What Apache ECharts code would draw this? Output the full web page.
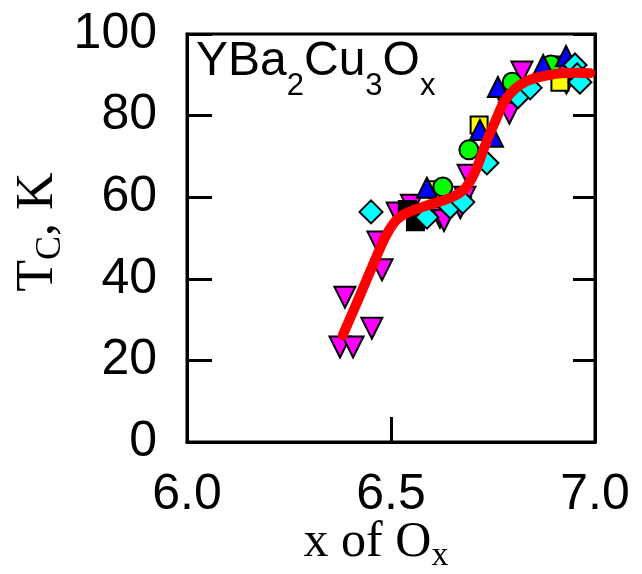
<!DOCTYPE html>
<html><head><meta charset="utf-8">
<script src="https://cdn.jsdelivr.net/npm/echarts@6/dist/echarts.min.js"></script>
<style>html,body{margin:0;padding:0;background:#fff}#c{width:642px;height:574px}</style>
</head><body><div id="c"></div>
<script>
const xTicks = [6.0, 6.5, 7.0];
const yTicks = [0, 20, 40, 60, 80, 100];
const magenta = [[6.375,23.3],[6.407,23.3],[6.387,35.5],[6.453,27.9],[6.478,42.2],[6.468,49.0],[6.515,56.1],[6.55,58.0],[6.62,55.1],[6.63,54.3],[6.67,57.4],[6.681,60.0],[6.689,65.4],[6.787,81.9],[6.79,80.6],[6.821,90.7],[6.919,91.9],[6.93,88.0]];
const cyan = [[6.451,56.4],[6.588,55.1],[6.645,57.6],[6.676,58.8],[6.735,68.4],[6.811,84.6],[6.841,86.8],[6.951,92.4],[6.956,90.0],[6.963,88.2]];
const blue = [[6.588,62.3],[6.718,76.5],[6.75,74.8],[6.762,87.0],[6.873,92.4],[6.929,94.6]];
const green = [[6.627,62.5],[6.691,71.6],[6.797,88.2],[6.892,92.4]];
const yellow = [[6.613,61.8],[6.716,77.7],[6.914,88.2]];
const black = [[6.54,57.0],[6.56,54.0]];
const fit = [[6.382,26.2],[6.42,35],[6.461,44.6],[6.49,51],[6.52,55],[6.571,57.4],[6.645,59.8],[6.68,62.0],[6.705,66],[6.73,72.5],[6.755,78.5],[6.785,84.5],[6.828,88.2],[6.89,90.0],[6.95,90.5],[6.988,90.4]];

const chart = echarts.init(document.getElementById('c'));
const mk = (data, sym, color, size, rot) => ({
  type: 'scatter', data, symbol: sym, symbolSize: size, symbolRotate: rot || 0,
  itemStyle: {color, borderColor: '#000', borderWidth: 2, opacity: 1}, z: 3, silent: true
});
const tickFont = {fontFamily: 'Liberation Sans, Arial, sans-serif', fontSize: 50, color: '#000'};
chart.setOption({
  animation: false,
  backgroundColor: '#fff',
  grid: {left: 187, top: 34, right: 47, bottom: 132, show: true, borderColor: '#000', borderWidth: 3, backgroundColor: 'transparent'},
  xAxis: [{
    type: 'value', min: 6.0, max: 7.0, interval: 0.5,
    axisLine: {show: true, onZero: false, lineStyle: {color: '#000', width: 3}},
    axisTick: {show: true, inside: true, length: 25, lineStyle: {color: '#000', width: 3}},
    splitLine: {show: false},
    axisLabel: Object.assign({margin: 28, formatter: v => xTicks.includes(+v.toFixed(1)) ? v.toFixed(1) : ''}, tickFont)
  }],
  yAxis: [{
    type: 'value', min: 0, max: 100, interval: 20,
    axisLine: {show: true, lineStyle: {color: '#000', width: 3}},
    axisTick: {show: true, inside: true, length: 25, lineStyle: {color: '#000', width: 3}},
    splitLine: {show: false},
    axisLabel: Object.assign({margin: 30, formatter: v => yTicks.includes(v) ? String(v) : ''}, tickFont)
  }, {
    type: 'value', min: 0, max: 100, interval: 20, position: 'right',
    axisLine: {show: true, lineStyle: {color: '#000', width: 3}},
    axisTick: {show: true, inside: true, length: 22, lineStyle: {color: '#000', width: 3}},
    splitLine: {show: false}, axisLabel: {show: false}
  }],
  series: [
    mk(magenta, 'triangle', '#ff00ff', 21, 180),
    mk(black, 'rect', '#000', 17),
    mk(yellow, 'rect', '#ffff00', 17),
    mk(green, 'circle', '#00ff00', 19),
    mk(blue, 'triangle', '#0000ff', 20),
    mk(cyan, 'diamond', '#00ffff', 23),
    {type: 'line', data: fit, smooth: 0.4, showSymbol: false, symbol: 'none',
     lineStyle: {color: '#ff0000', width: 10, cap: 'round', join: 'round'}, z: 5, silent: true}
  ],
  graphic: [
    {type: 'text', left: 196, top: 38, z: 10, style: {
      text: '{m|YBa}{s|2}{m|Cu}{s|3}{m|O}{s|x}',
      rich: {
        m: {fontFamily: 'Liberation Sans, Arial, sans-serif', fontSize: 48, fill: '#000', verticalAlign: 'bottom', lineHeight: 46},
        s: {fontFamily: 'Liberation Sans, Arial, sans-serif', fontSize: 31, fill: '#000', verticalAlign: 'bottom', lineHeight: 46, padding: [0,0,-16,0]}
      }}},
    {type: 'text', x: 376, y: 543, z: 10, style: {
      text: '{m|x of O}{s|x}', align: 'center', verticalAlign: 'middle',
      rich: {
        m: {fontFamily: 'Liberation Serif, Times New Roman, serif', fontSize: 50, fill: '#000'},
        s: {fontFamily: 'Liberation Serif, Times New Roman, serif', fontSize: 34, fill: '#000', padding: [26,0,0,0]}
      }}},
    {type: 'text', x: 38, y: 232, rotation: Math.PI / 2, z: 10, style: {
      text: '{m|T}{s|C}{m|, K}', align: 'center', verticalAlign: 'middle',
      rich: {
        m: {fontFamily: 'Liberation Serif, Times New Roman, serif', fontSize: 52, fill: '#000'},
        s: {fontFamily: 'Liberation Serif, Times New Roman, serif', fontSize: 36, fill: '#000', padding: [26,0,0,0]}
      }}}
  ]
});
</script></body></html>
